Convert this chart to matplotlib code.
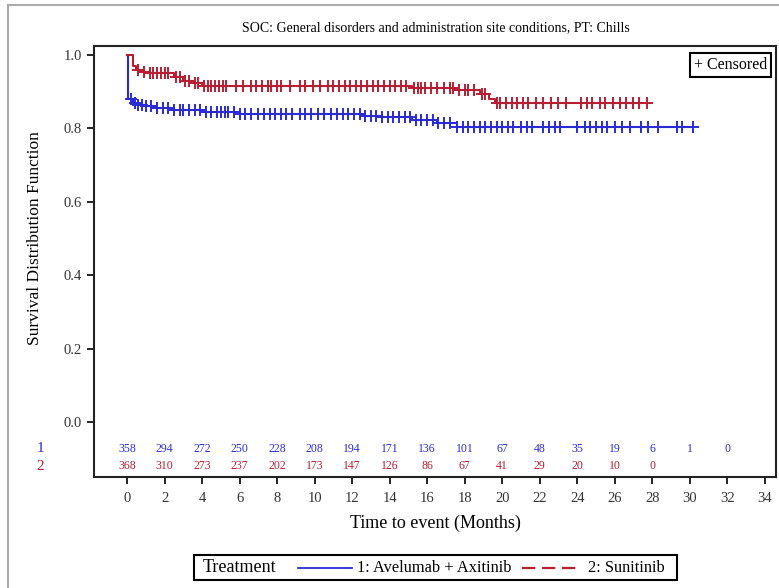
import matplotlib
matplotlib.use("Agg")
import matplotlib.pyplot as plt
from matplotlib.patches import Rectangle
from matplotlib.lines import Line2D
import numpy as np

plt.rcParams['font.family'] = ['Liberation Serif', 'DejaVu Serif']

# ---- data ----
blue_t = [0, 0.05, 0.3, 0.6, 1.0, 1.5, 2.5, 4.0, 6.0, 12.6, 13.5, 15.2, 16.5, 17.6]
blue_s = [1.0, 0.88, 0.87, 0.865, 0.86, 0.855, 0.85, 0.845, 0.84, 0.835, 0.83, 0.822, 0.815, 0.803]
blue_end = 30.2
blue_cens = [0.2, 0.4, 0.6, 0.8, 1.0, 1.3, 1.6, 1.9, 2.2, 2.5, 2.8, 3.0, 3.3, 3.6, 3.9, 4.2,
             4.5, 4.8, 5.0, 5.2, 5.4, 5.7, 6.0, 6.3, 6.6, 7.0, 7.3, 7.6, 7.9, 8.2, 8.5, 8.8,
             9.2, 9.5, 9.8, 10.2, 10.5, 10.9, 11.2, 11.5, 11.8, 12.1, 12.4, 12.7, 13.0, 13.3,
             13.6, 13.9, 14.2, 14.5, 14.8, 15.1, 15.4, 15.7, 16.0, 16.3, 16.6, 16.9, 17.2,
             17.6, 17.9, 18.2, 18.5, 18.8, 19.1, 19.4, 19.7, 20.0, 20.3, 20.6, 21.0, 21.3,
             21.6, 22.2, 22.5, 22.8, 23.1, 24.0, 24.4, 24.7, 25.0, 25.3, 25.6, 26.0, 26.4,
             26.8, 27.4, 27.8, 28.3, 29.3, 29.6, 30.2]

red_t = [0, 0.3, 0.5, 0.8, 1.2, 2.5, 3.0, 3.5, 4.0, 15.2, 17.5, 18.8, 19.3, 19.6]
red_s = [1.0, 0.97, 0.96, 0.955, 0.95, 0.94, 0.93, 0.925, 0.915, 0.91, 0.905, 0.895, 0.88, 0.87]
red_end = 27.7
red_cens = [0.6, 0.9, 1.2, 1.4, 1.6, 1.8, 2.0, 2.2, 2.6, 2.8, 3.1, 3.3, 3.6, 3.8, 4.1, 4.3,
            4.5, 4.7, 4.9, 5.1, 5.3, 5.8, 6.2, 6.6, 6.9, 7.2, 7.5, 7.7, 8.0, 8.2, 8.7, 9.2,
            9.5, 9.9, 10.3, 10.7, 11.0, 11.3, 11.6, 11.9, 12.2, 12.5, 12.8, 13.1, 13.4,
            13.7, 14.0, 14.3, 14.6, 14.9, 15.3, 15.5, 15.7, 15.9, 16.2, 16.5, 16.9, 17.2,
            17.4, 17.7, 18.0, 18.2, 18.5, 18.9, 19.1, 19.7, 19.9, 20.2, 20.5, 20.8, 21.1,
            21.4, 21.8, 22.2, 22.6, 23.0, 23.4, 24.2, 24.5, 24.8, 25.2, 25.5, 25.9, 26.3,
            26.6, 27.0, 27.3, 27.7]

risk_times = [0, 2, 4, 6, 8, 10, 12, 14, 16, 18, 20, 22, 24, 26, 28, 30, 32]
risk_blue = [358, 294, 272, 250, 228, 208, 194, 171, 136, 101, 67, 48, 35, 19, 6, 1, 0]
risk_red = [368, 310, 273, 237, 202, 173, 147, 126, 86, 67, 41, 29, 20, 10, 0]

x_ticks = list(range(0, 36, 2))
y_ticks = [0.0, 0.2, 0.4, 0.6, 0.8, 1.0]

BLUE = '#2B2BD6'
RED = '#B81E32'

W, H = 779, 588
fig = plt.figure(figsize=(W / 100, H / 100), dpi=100)
ax = fig.add_axes([94 / W, 1 - 477 / H, (776 - 94) / W, (477 - 46) / H])


def surv_at(ts, ss, x):
    idx = np.searchsorted(ts, x, side='right') - 1
    return np.array(ss)[idx]


for ts, ss, end, cens, col in [(blue_t, blue_s, blue_end, blue_cens, BLUE),
                               (red_t, red_s, red_end, red_cens, RED)]:
    xs = list(ts) + [end]
    ys = list(ss) + [ss[-1]]
    ax.step(xs, ys, where='post', color=col, lw=1.5, zorder=3)
    ax.plot(cens, surv_at(ts, ss, cens), linestyle='none', marker='+', ms=8, mew=1.4,
            color=col, zorder=4)

# at-risk table
for t, n in zip(risk_times, risk_blue):
    ax.text(t, -0.0735, str(n), color=BLUE, fontsize=8.5, ha='center', va='center')
for t, n in zip(risk_times, risk_red):
    ax.text(t, -0.12, str(n), color=RED, fontsize=8.5, ha='center', va='center')
fig.text(40 / W, 1 - 449 / H, '1', color=BLUE, fontsize=11, ha='center', va='center')
fig.text(40 / W, 1 - 466 / H, '2', color=RED, fontsize=11, ha='center', va='center')

ax.set_xlim(-1.76, 34.6)
ax.set_ylim(-0.1497, 1.0245)
ax.set_xticks(x_ticks)
ax.set_yticks(y_ticks)
ax.set_yticklabels([f'{v:.1f}' for v in y_ticks])
ax.tick_params(axis='both', direction='out', length=5, width=1.2, labelsize=10.5, colors='black',
               labelcolor='#333333')
ax.tick_params(axis='x', pad=6)
for sp in ax.spines.values():
    sp.set_linewidth(1.5)
    sp.set_color('#222222')

fig.text(435 / W, 1 - 523 / H, 'Time to event (Months)', fontsize=13, ha='center', va='center')
fig.text(35 / W, 1 - 238 / H, 'Survival Distribution Function', fontsize=12.5, ha='center',
         va='center', rotation=90)
fig.text(436 / W, 1 - 28 / H, 'SOC: General disorders and administration site conditions, PT: Chills',
         fontsize=10, ha='center', va='center')

# censored box
ax.text(0.987, 0.9745, '+ Censored', transform=ax.transAxes, ha='right', va='top', fontsize=11.5,
        bbox=dict(boxstyle='square,pad=0.25', fc='white', ec='black', lw=1.5))

# bottom legend
fig.patches.append(Rectangle((194 / W, 1 - 580 / H), (677 - 194) / W, 25 / H,
                             transform=fig.transFigure, fill=False, ec='black', lw=1.5))
ly = 1 - 567.5 / H
fig.text(203 / W, ly, 'Treatment', fontsize=13, ha='left', va='center')
fig.lines.append(Line2D([298 / W, 352 / W], [ly, ly], transform=fig.transFigure, color=BLUE, lw=1.3))
fig.text(357 / W, ly, '1: Avelumab + Axitinib', fontsize=11.8, ha='left', va='center')
fig.lines.append(Line2D([522 / W, 578 / W], [ly, ly], transform=fig.transFigure, color=RED, lw=1.6,
                        dashes=(6, 3)))
fig.text(588 / W, ly, '2: Sunitinib', fontsize=11.8, ha='left', va='center')

# outer frame
fig.lines.append(Line2D([8 / W, 8 / W], [0, 1 - 5 / H], transform=fig.transFigure, color='#AAAAAA', lw=1.5))
fig.lines.append(Line2D([8 / W, 1], [1 - 5 / H, 1 - 5 / H], transform=fig.transFigure, color='#AAAAAA', lw=1.5))

fig.savefig('out.png', dpi=100)
